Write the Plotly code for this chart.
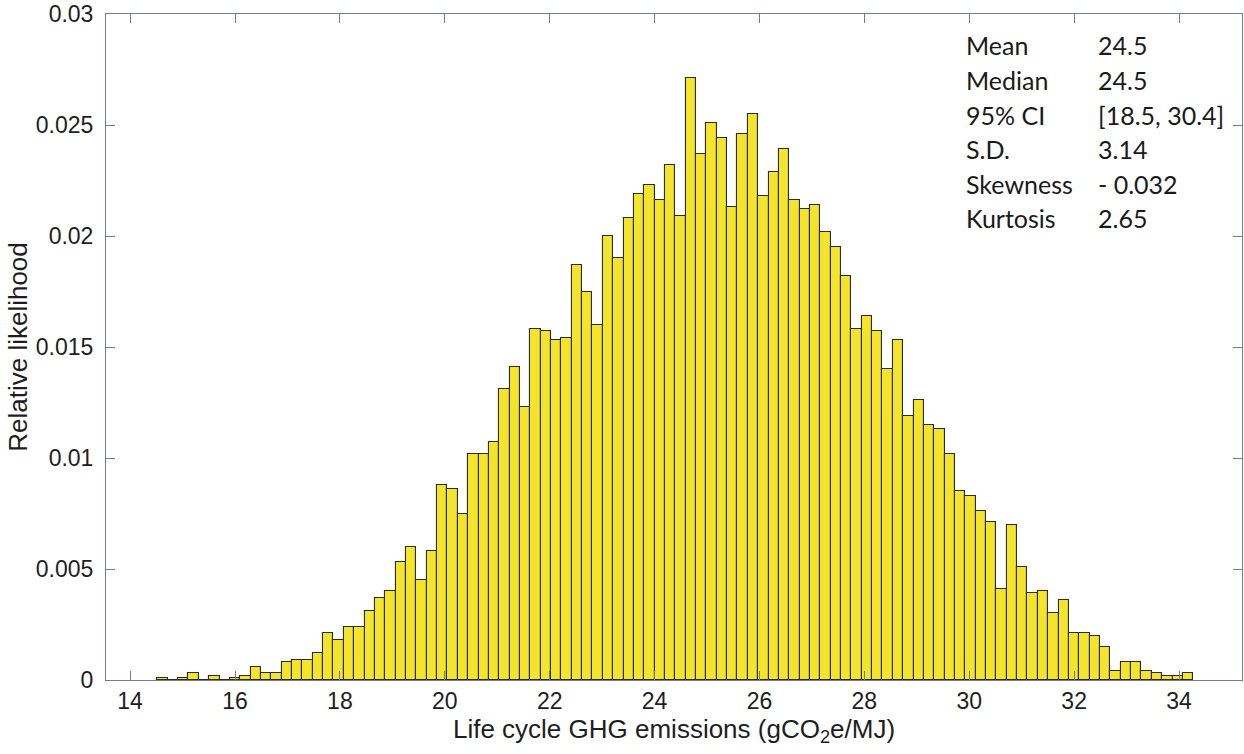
import numpy as np
import plotly.graph_objects as go

# ---- data -------------------------------------------------------------
bin_start = 14.52      # left edge of first histogram bin (gCO2e/MJ)
bin_width = 0.1975     # histogram bin width (gCO2e/MJ)
likelihood = [
    0.0001, 0.0000, 0.0001, 0.0003, 0.0000, 0.0002, 0.0000, 0.0001, 0.0002, 0.0006,
    0.0003, 0.0003, 0.0008, 0.0009, 0.0009, 0.0012, 0.0021, 0.0018, 0.0024, 0.0024,
    0.0031, 0.0037, 0.0040, 0.0053, 0.0060, 0.0045, 0.0058, 0.0088, 0.0086, 0.0075,
    0.0102, 0.0102, 0.0107, 0.0131, 0.0141, 0.0123, 0.0158, 0.0157, 0.0153, 0.0154,
    0.0187, 0.0175, 0.0160, 0.0200, 0.0190, 0.0208, 0.0219, 0.0223, 0.0216, 0.0232,
    0.0209, 0.0271, 0.0237, 0.0251, 0.0244, 0.0213, 0.0246, 0.0255, 0.0218, 0.0229,
    0.0239, 0.0216, 0.0212, 0.0214, 0.0202, 0.0195, 0.0182, 0.0158, 0.0164, 0.0157,
    0.0140, 0.0153, 0.0119, 0.0126, 0.0115, 0.0113, 0.0102, 0.0085, 0.0083, 0.0076,
    0.0071, 0.0041, 0.0070, 0.0051, 0.0039, 0.0040, 0.0030, 0.0036, 0.0021, 0.0021,
    0.0020, 0.0015, 0.0004, 0.0008, 0.0008, 0.0004, 0.0003, 0.0002, 0.0002, 0.0003,
]
x_tick_vals = [14, 16, 18, 20, 22, 24, 26, 28, 30, 32, 34]
y_tick_vals = [0, 0.005, 0.01, 0.015, 0.02, 0.025, 0.03]
y_tick_text = ["0", "0.005", "0.01", "0.015", "0.02", "0.025", "0.03"]
stat_names = ["Mean", "Median", "95% CI", "S.D.", "Skewness", "Kurtosis"]
stat_values = ["24.5", "24.5", "[18.5, 30.4]", "3.14", "- 0.032", "2.65"]

# ---- layout constants ---------------------------------------------------
W, H = 1244, 754
ML, MR, MT, MB = 106, 1, 12, 74
plot_w = W - ML - MR
plot_h = H - MT - MB

bin_centers = bin_start + (np.arange(len(likelihood)) + 0.5) * bin_width

fig = go.Figure()
fig.add_trace(go.Bar(
    x=bin_centers,
    y=likelihood,
    width=bin_width,
    marker=dict(color="rgb(243,228,45)",
                line=dict(color="rgb(45,43,30)", width=1.1)),
    hoverinfo="x+y",
    showlegend=False,
))

axis_color = "rgb(120,124,138)"
tick_font = dict(family="Liberation Sans, Arial, sans-serif", size=23, color="#1e1e1e")
title_font = dict(family="Liberation Sans, Arial, sans-serif", size=26, color="#1e1e1e")

fig.update_layout(
    width=W, height=H,
    margin=dict(l=ML, r=MR, t=MT, b=MB, pad=0),
    paper_bgcolor="white",
    plot_bgcolor="white",
    bargap=0,
    font=tick_font,
    xaxis=dict(
        range=[13.54, 35.2],
        tickmode="array", tickvals=x_tick_vals,
        ticks="inside", ticklen=9, tickwidth=1, tickcolor=axis_color,
        showline=True, linecolor=axis_color, linewidth=1, mirror="ticks",
        showgrid=False, zeroline=False,
        tickfont=tick_font,
        ticklabelstandoff=0,
        ticklabeloverflow="allow",
        title=dict(text="Life cycle GHG emissions (gCO<sub>2</sub>e/MJ)",
                   font=title_font, standoff=0),
    ),
    yaxis=dict(
        range=[0, 0.03],
        tickmode="array", tickvals=y_tick_vals, ticktext=y_tick_text,
        ticks="inside", ticklen=9, tickwidth=1, tickcolor=axis_color,
        showline=True, linecolor=axis_color, linewidth=1, mirror="ticks",
        showgrid=False, zeroline=False,
        tickfont=tick_font,
        ticklabelstandoff=7,
        ticklabeloverflow="allow",
        title=dict(text="Relative likelihood", font=title_font, standoff=0),
    ),
)

# statistics box (text)
stat_font = dict(family="Lato, Carlito, Calibri, sans-serif", size=25, color="#1a1a1a")
label_px = 965
value_px = 1097
row_center_px = [42.6, 78.3, 113.3, 147.6, 182.3, 216.6]
for name, val, cy in zip(stat_names, stat_values, row_center_px):
    yp = (H - MB - cy) / plot_h
    fig.add_annotation(x=(label_px - ML) / plot_w, y=yp, xref="paper", yref="paper",
                       text=name, showarrow=False, xanchor="left", yanchor="middle",
                       font=stat_font)
    fig.add_annotation(x=(value_px - ML) / plot_w, y=yp, xref="paper", yref="paper",
                       text=val, showarrow=False, xanchor="left", yanchor="middle",
                       font=stat_font)

fig.write_html("out.html")
